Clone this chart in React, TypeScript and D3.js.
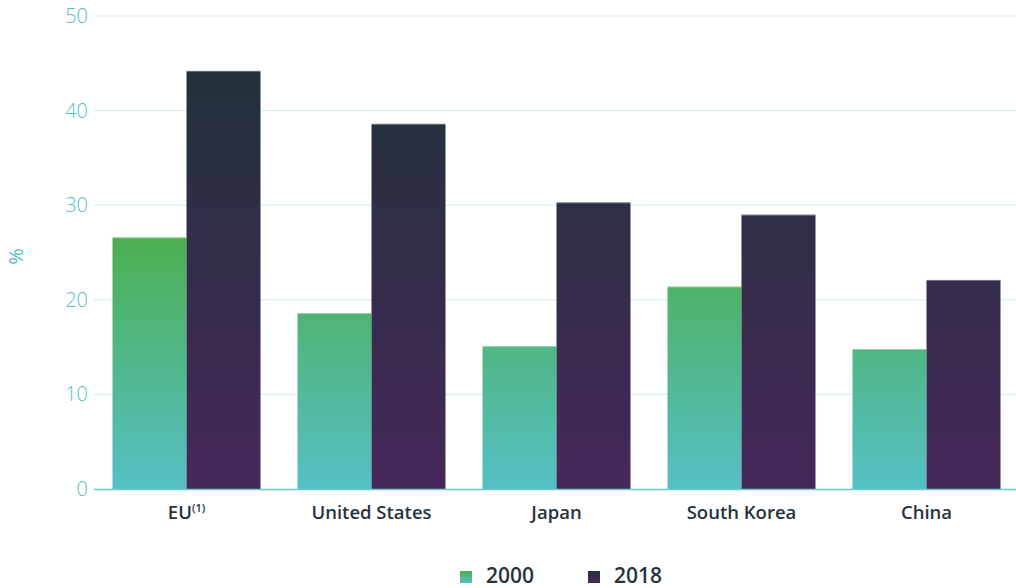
import React, { useEffect, useRef } from 'react';
import * as d3 from 'd3';

const categories = ['EU', 'United States', 'Japan', 'South Korea', 'China'];
const series = ['2000', '2018'];
const values2000 = [26.6, 18.6, 15.1, 21.4, 14.8];
const values2018 = [44.2, 38.6, 30.3, 29.0, 22.1];
const yTicks = [0, 10, 20, 30, 40, 50];

const gradients: Record<string, [string, string]> = {
  '2000': ['#4caf50', '#55c0c6'],
  '2018': ['#22313b', '#46285a'],
};

const W = 1016;
const H = 588;

const App: React.FC = () => {
  const svgRef = useRef<SVGSVGElement>(null);

  useEffect(() => {
    if (!svgRef.current) return;
    const svg = d3.select(svgRef.current);
    svg.selectAll('*').remove();

    const left = 94, right = 1019, top = 16, bottom = 489;
    const font = "'Open Sans', sans-serif";

    const x0 = d3.scaleBand<string>().domain(categories).range([left, right]).paddingInner(0.2).paddingOuter(0.1);
    const x1 = d3.scaleBand<string>().domain(series).range([0, x0.bandwidth()]);
    const y = d3.scaleLinear().domain([0, 50]).range([bottom, top]);

    const data: Record<string, number[]> = { '2000': values2000, '2018': values2018 };

    const defs = svg.append('defs');
    series.forEach((s) => {
      const g = defs.append('linearGradient')
        .attr('id', `grad-${s}`)
        .attr('gradientUnits', 'userSpaceOnUse')
        .attr('x1', 0).attr('x2', 0)
        .attr('y1', y(d3.max(data[s])!)).attr('y2', y(0));
      g.append('stop').attr('offset', '0%').attr('stop-color', gradients[s][0]);
      g.append('stop').attr('offset', '100%').attr('stop-color', gradients[s][1]);
    });
    // small legend gradients
    series.forEach((s) => {
      const g = defs.append('linearGradient')
        .attr('id', `leg-${s}`)
        .attr('x1', 0).attr('x2', 0).attr('y1', 0).attr('y2', 1);
      g.append('stop').attr('offset', '0%').attr('stop-color', gradients[s][0]);
      g.append('stop').attr('offset', '100%').attr('stop-color', gradients[s][1]);
    });

    // gridlines
    svg.append('g')
      .selectAll('line')
      .data(yTicks.filter((t) => t > 0))
      .join('line')
      .attr('x1', left).attr('x2', W)
      .attr('y1', (d) => y(d)).attr('y2', (d) => y(d))
      .attr('stroke', '#d3eced').attr('stroke-width', 1);

    // y tick labels
    svg.append('g')
      .selectAll('text')
      .data(yTicks)
      .join('text')
      .attr('x', 88)
      .attr('y', (d) => y(d))
      .attr('dy', '0.35em')
      .attr('text-anchor', 'end')
      .attr('font-family', font)
      .attr('font-size', 20)
      .attr('font-weight', 300)
      .attr('fill', '#56c1c3')
      .text((d) => d);

    // y axis title
    svg.append('text')
      .attr('transform', `translate(23,${(top + bottom) / 2 + 4}) rotate(-90)`)
      .attr('text-anchor', 'middle')
      .attr('font-family', font)
      .attr('font-size', 20)
      .attr('fill', '#56c1c3')
      .text('%');

    // bars
    const groups = svg.append('g')
      .selectAll('g')
      .data(categories)
      .join('g')
      .attr('transform', (d) => `translate(${x0(d)},0)`);

    groups.selectAll('rect')
      .data((c, i) => series.map((s) => ({ s, v: data[s][i] })))
      .join('rect')
      .attr('x', (d) => x1(d.s)!)
      .attr('width', x1.bandwidth())
      .attr('y', (d) => y(d.v))
      .attr('height', (d) => y(0) - y(d.v))
      .attr('fill', (d) => `url(#grad-${d.s})`);

    // thin highlight on bar tops
    groups.selectAll('line.top')
      .data((c, i) => series.map((s) => ({ s, v: data[s][i] })))
      .join('line')
      .attr('class', 'top')
      .attr('x1', (d) => x1(d.s)!)
      .attr('x2', (d) => x1(d.s)! + x1.bandwidth())
      .attr('y1', (d) => y(d.v) + 0.5)
      .attr('y2', (d) => y(d.v) + 0.5)
      .attr('stroke', '#ffffff')
      .attr('stroke-opacity', 0.35);

    // baseline
    svg.append('line')
      .attr('x1', left).attr('x2', W)
      .attr('y1', bottom + 0.5).attr('y2', bottom + 0.5)
      .attr('stroke', '#6cc8cb').attr('stroke-width', 1.5);

    // category labels
    const labels = svg.append('g')
      .selectAll('text')
      .data(categories)
      .join('text')
      .attr('x', (d) => x0(d)! + x0.bandwidth() / 2)
      .attr('y', 519)
      .attr('text-anchor', 'middle')
      .attr('font-family', font)
      .attr('font-size', 18.5)
      .attr('font-weight', 600)
      .attr('fill', '#27323d');
    labels.append('tspan').text((d) => d);
    labels.filter((d) => d === 'EU')
      .append('tspan')
      .attr('font-size', 11)
      .attr('dy', -7)
      .text('(1)');

    // legend
    const legend = svg.append('g');
    const legendX = [460, 588];
    series.forEach((s, i) => {
      legend.append('rect')
        .attr('x', legendX[i]).attr('y', 571)
        .attr('width', 12).attr('height', 12)
        .attr('fill', `url(#leg-${s})`);
      legend.append('text')
        .attr('x', legendX[i] + 26).attr('y', 583)
        .attr('font-family', font)
        .attr('font-size', 21)
        .attr('font-weight', 600)
        .attr('fill', '#27323d')
        .text(s);
    });
  }, []);

  return (
    <svg
      ref={svgRef}
      width={W}
      height={H}
      style={{ position: 'absolute', left: 0, top: 0, background: '#fff' }}
    />
  );
};

export default App;
